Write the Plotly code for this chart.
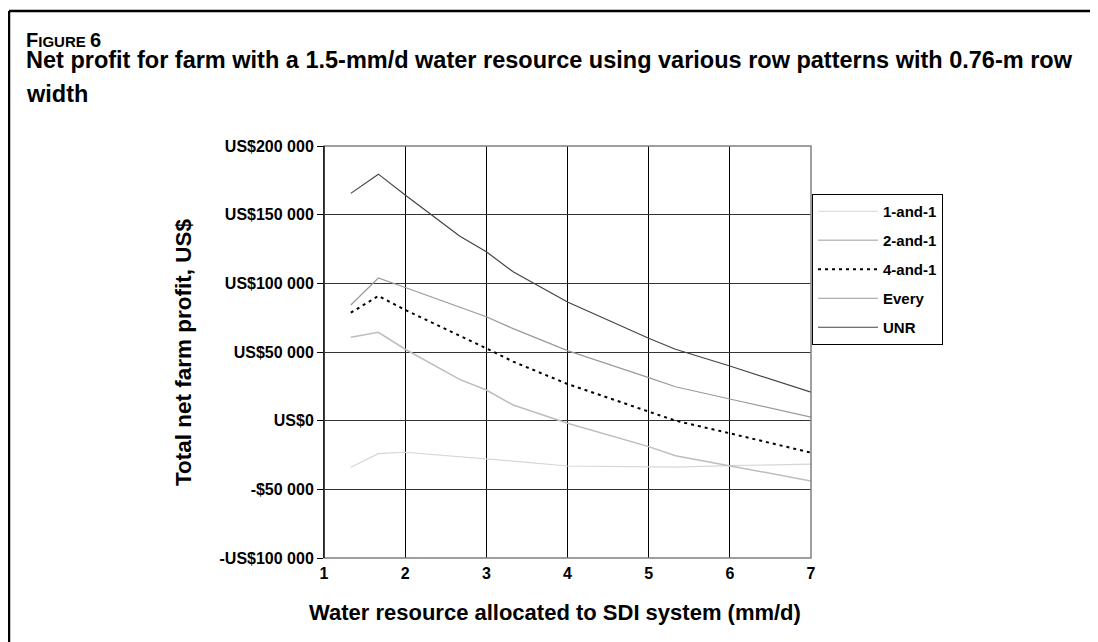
import plotly.graph_objects as go

# Water resource allocated to SDI (mm/d)
x_vals = [1.33, 1.67, 2, 2.67, 3, 3.33, 4, 5, 5.33, 6, 7]

# Net farm profit by row pattern (US$)
one_and_one = [-33900, -24000, -23000, -26000, -27900, -29500, -33000, -33500, -33900, -32700, -31700]
two_and_one = [60700, 64300, 52000, 30100, 22300, 11400, -1900, -18900, -25500, -33000, -43900]
four_and_one = [78600, 90800, 80600, 62000, 52700, 43000, 26700, 6600, 0, -9200, -23300]
every_row = [84200, 103900, 97000, 83100, 75700, 67000, 51000, 31300, 24700, 15800, 2500]
unr = [165500, 179500, 164300, 134400, 123000, 108400, 86400, 60000, 52000, 39800, 20700]

series_names = ['1-and-1', '2-and-1', '4-and-1', 'Every', 'UNR']

y_tickvals = [-100000, -50000, 0, 50000, 100000, 150000, 200000]
y_ticktext = ['-US$100 000', '-$50 000', 'US$0', 'US$50 000', 'US$100 000', 'US$150 000', 'US$200 000']

W, H = 1098, 642
OFF = 8  # page body margin
L, R, T, B = 324, 811, 146, 558  # plot area in screen pixels
FONT = 'Liberation Sans, Arial, sans-serif'


def px_x(p):
    return (p - L) / (R - L)


def px_y(p):
    return (B - p) / (B - T)


styles = [
    dict(color='#d6d6d6', width=1.2),
    dict(color='#bdbdbd', width=1.5),
    dict(color='#000000', width=2, dash='3px,4px'),
    dict(color='#9a9a9a', width=1.2),
    dict(color='#444444', width=1.2),
]
values = [one_and_one, two_and_one, four_and_one, every_row, unr]

fig = go.Figure()
for name, vals, st in zip(series_names, values, styles):
    fig.add_trace(go.Scatter(x=x_vals, y=vals, mode='lines', name=name,
                             legendgroup=name, line=st))

fig.update_layout(
    width=W, height=H,
    margin=dict(l=L - OFF, r=W + OFF - R, t=T - OFF, b=H + OFF - B, autoexpand=False),
    paper_bgcolor='white', plot_bgcolor='white',
    font=dict(family=FONT, color='black'),
    showlegend=True,
    legend=dict(x=px_x(812), y=px_y(194), xanchor='left', yanchor='top',
                bordercolor='black', borderwidth=1, bgcolor='white',
                font=dict(size=15, weight='bold'), itemwidth=60,
                tracegroupgap=6.5, traceorder='grouped'),
)

fig.update_xaxes(range=[1, 7], tickvals=[1, 2, 3, 4, 5, 6, 7],
                 showgrid=True, gridcolor='black', gridwidth=1,
                 showline=False, zeroline=False, ticks='',
                 tickfont=dict(size=16, weight='bold'), ticklabelstandoff=4)
fig.update_yaxes(range=[-100000, 200000], tickvals=y_tickvals, ticktext=y_ticktext,
                 showgrid=True, gridcolor='#333333', gridwidth=1,
                 showline=True, linecolor='black', linewidth=1, zeroline=False,
                 ticks='outside', ticklen=6, tickcolor='black',
                 tickfont=dict(size=16, weight='bold'))

# plot border (gray) on top, right and bottom
fig.add_shape(type='rect', xref='paper', yref='paper', x0=0, x1=1, y0=0, y1=1,
              line=dict(color='#808080', width=1.5), layer='above')
fig.add_shape(type='line', xref='paper', yref='paper', x0=0, x1=0, y0=0, y1=1,
              line=dict(color='black', width=1.2), layer='above')

# outer figure frame (top + left)
fig.add_shape(type='line', xref='paper', yref='paper', x0=px_x(9), x1=px_x(W + 20),
              y0=px_y(11), y1=px_y(11), line=dict(color='black', width=2.5))
fig.add_shape(type='line', xref='paper', yref='paper', x0=px_x(9), x1=px_x(9),
              y0=px_y(11), y1=px_y(H + 20), line=dict(color='black', width=2.5))

fig.add_annotation(xref='paper', yref='paper', x=px_x(24), y=px_y(40),
                   xanchor='left', yanchor='middle', showarrow=False,
                   text="<b><span style='font-size:20px'>F</span>IGURE <span style='font-size:20px'>6</span></b>",
                   font=dict(size=15))
fig.add_annotation(xref='paper', yref='paper', x=px_x(24), y=px_y(60),
                   xanchor='left', yanchor='middle', showarrow=False,
                   text='<b>Net profit for farm with a 1.5-mm/d water resource using various row patterns with 0.76-m row</b>',
                   font=dict(size=23.5))
fig.add_annotation(xref='paper', yref='paper', x=px_x(24), y=px_y(94),
                   xanchor='left', yanchor='middle', showarrow=False,
                   text='<b>width</b>', font=dict(size=23.5))

fig.add_annotation(xref='paper', yref='paper', x=px_x(183), y=px_y(352),
                   xanchor='center', yanchor='middle', showarrow=False, textangle=-90,
                   text='<b>Total net farm profit, US$</b>', font=dict(size=22.5))
fig.add_annotation(xref='paper', yref='paper', x=px_x(555), y=px_y(612),
                   xanchor='center', yanchor='middle', showarrow=False,
                   text='<b>Water resource allocated to SDI system (mm/d)</b>', font=dict(size=22))

fig.write_html("out.html")
